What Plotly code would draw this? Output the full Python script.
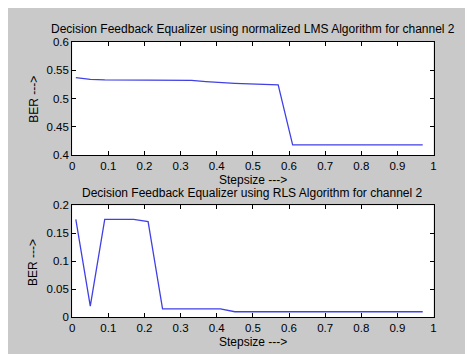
import plotly.graph_objects as go

stepsize = [0.01, 0.05, 0.09, 0.13, 0.17, 0.21, 0.25, 0.29, 0.33, 0.37, 0.41, 0.45, 0.49,
            0.53, 0.57, 0.61, 0.65, 0.69, 0.73, 0.77, 0.81, 0.85, 0.89, 0.93, 0.97]
ber_lms = [0.537, 0.534, 0.533, 0.533, 0.533, 0.533, 0.533, 0.533, 0.532, 0.530, 0.528, 0.527, 0.526,
           0.525, 0.524, 0.418, 0.418, 0.418, 0.418, 0.418, 0.418, 0.418, 0.418, 0.418, 0.418]
ber_rls = [0.175, 0.02, 0.175, 0.175, 0.175, 0.171, 0.015, 0.015, 0.015, 0.015, 0.015, 0.01, 0.01,
           0.01, 0.01, 0.01, 0.01, 0.01, 0.01, 0.01, 0.01, 0.01, 0.01, 0.01, 0.01]

title_top = "Decision Feedback Equalizer using normalized LMS Algorithm for channel 2"
title_bot = "Decision Feedback Equalizer using RLS Algorithm for channel 2"
xlabel = "Stepsize --->"
ylabel = "BER --->"
xticks = [0, 0.1, 0.2, 0.3, 0.4, 0.5, 0.6, 0.7, 0.8, 0.9, 1]
yticks_top = [0.4, 0.45, 0.5, 0.55, 0.6]
yticks_bot = [0, 0.05, 0.1, 0.15, 0.2]

W, H = 473, 354
def px(x): return x / W
def py(y): return 1 - y / H

fig = go.Figure()
fig.add_trace(go.Scatter(x=stepsize, y=ber_lms, mode="lines", line=dict(color="#4040e6", width=1.3),
                         xaxis="x", yaxis="y", showlegend=False))
fig.add_trace(go.Scatter(x=stepsize, y=ber_rls, mode="lines", line=dict(color="#4040e6", width=1.3),
                         xaxis="x2", yaxis="y2", showlegend=False))

font = dict(family="Liberation Sans, Arial, sans-serif", size=12, color="black")
tickfont = dict(family="Liberation Sans, Arial, sans-serif", size=11.5, color="black")
axcommon = dict(showline=True, linecolor="black", linewidth=1, mirror="ticks", ticks="inside",
                ticklen=4, tickcolor="black", showgrid=False, zeroline=False, tickfont=tickfont)

xd = [px(62), px(428)]
fig.update_layout(
    width=W, height=H,
    margin=dict(l=0, r=0, t=0, b=0),
    paper_bgcolor="#c9c9c9", plot_bgcolor="white",
    font=font,
    xaxis=dict(domain=xd, range=[0, 1], tickvals=xticks, ticktext=[f"{v:g}" for v in xticks],
               anchor="y", **axcommon),
    yaxis=dict(domain=[py(146), py(29)], range=[0.4, 0.6], tickvals=yticks_top,
               ticktext=[f"{v:g}" for v in yticks_top], anchor="x", **axcommon),
    xaxis2=dict(domain=xd, range=[0, 1], tickvals=xticks, ticktext=[f"{v:g}" for v in xticks],
                anchor="y2", **axcommon),
    yaxis2=dict(domain=[py(314), py(198)], range=[0, 0.2], tickvals=yticks_bot,
                ticktext=[f"{v:g}" for v in yticks_bot], anchor="x2", **axcommon),
)

ann = [
    dict(text=title_top, x=px(245), y=py(16)),
    dict(text=title_bot, x=px(245), y=py(185)),
    dict(text=xlabel, x=px(245), y=py(172)),
    dict(text=xlabel, x=px(245), y=py(340)),
    dict(text=ylabel, x=px(23), y=py(88), textangle=-90),
    dict(text=ylabel, x=px(23), y=py(257), textangle=-90),
]
for a in ann:
    fig.add_annotation(xref="paper", yref="paper", showarrow=False, xanchor="center", yanchor="middle",
                       font=font, **a)

fig.write_html("out.html")
